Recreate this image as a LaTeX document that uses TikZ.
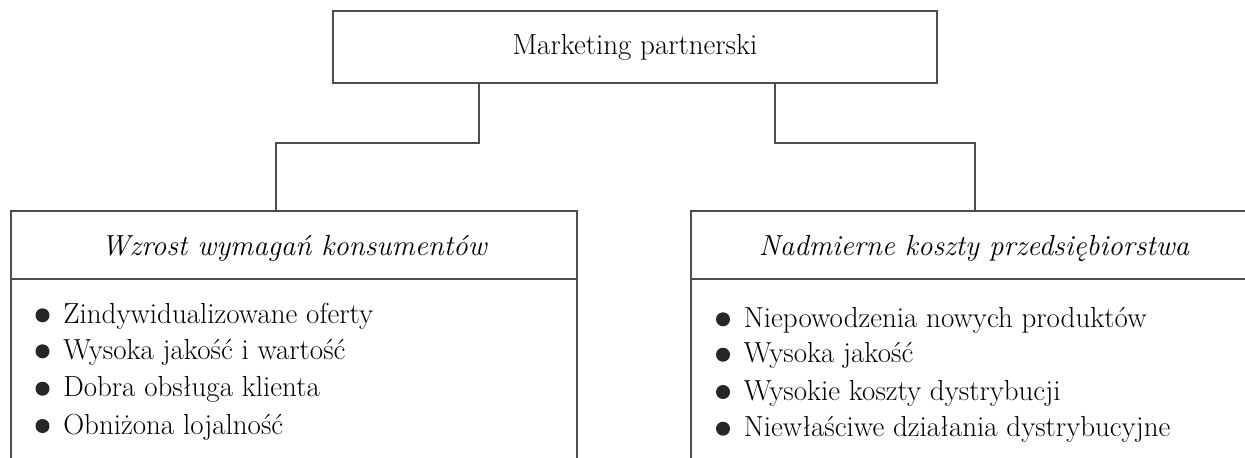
\documentclass[tikz,border=0pt]{standalone}
\usepackage{fontspec}
\usepackage{tikz}

\tikzset{
  linia/.style={draw=black!70, line width=0.9pt},
  ramka/.style={linia, rectangle, inner sep=0pt, font=\fontsize{16.5}{19}\selectfont},
  tekst/.style={inner sep=0pt, anchor=base west, font=\fontsize{16.5}{19}\selectfont},
  naglowek/.style={inner sep=0pt, anchor=base, font=\fontsize{16.5}{19}\selectfont\itshape},
  kropka/.style={fill=black!85}
}

\begin{document}
\begin{tikzpicture}[x=0.02cm, y=-0.02cm, line cap=rect, line join=miter]

\useasboundingbox (0,0) rectangle (1245,457);

% Gorny blok
\node[ramka, minimum width=12.08cm, minimum height=1.44cm] (mp) at (635,47) {Marketing partnerski};

% Bloki dolne (otwarte od dolu)
\draw[linia] (11,457) -- (11,211) -- (577,211) -- (577,457);
\draw[linia] (11,279) -- (577,279);
\draw[linia] (691,457) -- (691,211) -- (1245,211);
\draw[linia] (691,279) -- (1245,279);

\node[naglowek] (wym) at (294,255) {Wzrost wymagań konsumentów};
\node[naglowek] (kos) at (974,255) {Nadmierne koszty przedsiębiorstwa};

% Polaczenia
\coordinate (mpL) at (479,83);
\coordinate (mpR) at (775,83);
\coordinate (wymT) at (276,211);
\coordinate (kosT) at (975,211);
\draw[linia] (mpL) -- ++(0,60) -| (wymT);
\draw[linia] (mpR) -- ++(0,60) -| (kosT);

% Lista lewa
\fill[kropka] (42.5,315.3) circle (7);
\fill[kropka] (42.5,351.3) circle (7);
\fill[kropka] (42.5,388.7) circle (7);
\fill[kropka] (42.5,426) circle (7);
\node[tekst] (w1) at (63,323.3) {Zindywidualizowane oferty};
\node[tekst] (w2) at (63,359.3) {Wysoka jakość i wartość};
\node[tekst] (w3) at (63,396.7) {Dobra obsługa klienta};
\node[tekst] (w4) at (63,434) {Obniżona lojalność};

% Lista prawa
\fill[kropka] (723,319.3) circle (7);
\fill[kropka] (723,354.7) circle (7);
\fill[kropka] (723,392) circle (7);
\fill[kropka] (723,428.7) circle (7);
\node[tekst] (k1) at (743.5,327.3) {Niepowodzenia nowych produktów};
\node[tekst] (k2) at (743.5,362.7) {Wysoka jakość};
\node[tekst] (k3) at (743.5,400) {Wysokie koszty dystrybucji};
\node[tekst] (k4) at (743.5,436.7) {Niewłaściwe działania dystrybucyjne};

\end{tikzpicture}
\end{document}
